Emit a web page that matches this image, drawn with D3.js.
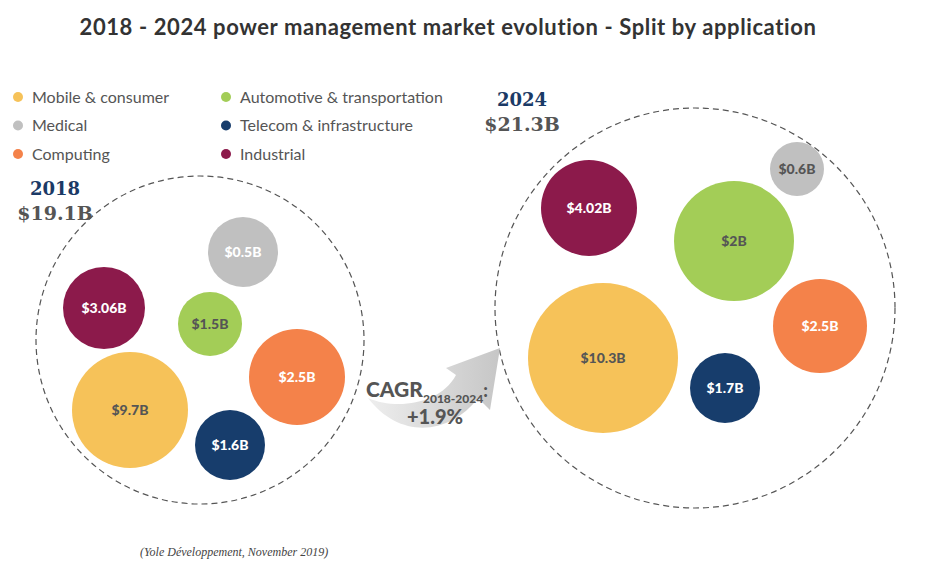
<!DOCTYPE html>
<html><head><meta charset="utf-8">
<script src="https://cdn.jsdelivr.net/npm/d3@7"></script>
<style>body{margin:0;background:#fff}svg{display:block}</style>
</head><body><svg id="c" width="928" height="564"></svg>
<script>
const categories=["Mobile & consumer","Medical","Computing","Automotive & transportation","Telecom & infrastructure","Industrial"];
const colors=["#f6c259","#c0c0c0","#f4824a","#a3cd57","#173d6c","#8c1a4b"];
const values2018=[9.7,0.5,2.5,1.5,1.6,3.06];
const labels2018=["$9.7B","$0.5B","$2.5B","$1.5B","$1.6B","$3.06B"];
const values2024=[10.3,0.6,2.5,2,1.7,4.02];
const labels2024=["$10.3B","$0.6B","$2.5B","$2B","$1.7B","$4.02B"];
const labelDark2018=[true,false,false,true,false,false];
const labelDark2024=[true,true,false,true,false,false];
// layout (position/radius in px) per bubble
const layout2018=[[130,410,58],[243,252,35],[297,377,48],[210,324,32],[230,445,35],[104,308,41]];
const layout2024=[[603,358,75],[797,169,27],[820,326,47],[734,241,60],[725,388,35],[589,208,48]];

const svg=d3.select("#c");
const font="Lato, 'Open Sans', sans-serif";
svg.append("text").attr("x",448).attr("y",35).attr("text-anchor","middle")
 .attr("font-family",font).attr("font-weight","bold").attr("font-size",22).attr("letter-spacing",0.6).attr("fill","#333")
 .text("2018 - 2024 power management market evolution - Split by application");

const leg=svg.append("g");
categories.forEach((c,i)=>{
  const col=Math.floor(i/3),row=i%3;
  const x=col?226:18, y=97+row*28.5;
  leg.append("circle").attr("cx",x).attr("cy",y).attr("r",5).attr("fill",colors[i]);
  leg.append("text").attr("x",x+14).attr("y",y+5.5).attr("font-family",font).attr("font-size",16).attr("fill","#555").text(c);
});

function group(layout,labels,dark,big,year,total,yx,yy){
  svg.append("circle").attr("cx",big[0]).attr("cy",big[1]).attr("r",big[2])
   .attr("fill","none").attr("stroke","#555").attr("stroke-width",1.2).attr("stroke-dasharray","6,4");
  layout.forEach((l,i)=>{
    svg.append("circle").attr("cx",l[0]).attr("cy",l[1]).attr("r",l[2]).attr("fill",colors[i]);
    svg.append("text").attr("x",l[0]).attr("y",l[1]+5).attr("text-anchor","middle")
     .attr("font-family",font).attr("font-weight","900").attr("font-size",14)
     .attr("fill",dark[i]?"#555":"#fff").text(labels[i]);
  });
  svg.append("text").attr("x",yx).attr("y",yy).attr("text-anchor","middle").attr("font-family","'DejaVu Serif', serif")
   .attr("font-weight","bold").attr("font-size",18).attr("fill","#1b3a66").text(year);
  svg.append("text").attr("x",yx).attr("y",yy+25).attr("text-anchor","middle").attr("font-family","'DejaVu Serif', serif")
   .attr("font-weight","bold").attr("font-size",19).attr("fill","#555").text(total);
}
group(layout2018,labels2018,labelDark2018,[200,340,164],"2018","$19.1B",55,195);
group(layout2024,labels2024,labelDark2024,[695,308,200],"2024","$21.3B",522,106);

const defs=svg.append("defs");
const gr=defs.append("linearGradient").attr("id","ag").attr("x1","0").attr("x2","1").attr("y1","0").attr("y2","0");
gr.append("stop").attr("offset","0").attr("stop-color","#eeeeee");
gr.append("stop").attr("offset","1").attr("stop-color","#c6c6c6");
svg.append("path").attr("fill","url(#ag)")
 .attr("d","M368,398 C395,410 440,405 456,375 L446,368 L500,348 L490,410 L478,398 C450,435 400,440 368,398 Z");
const cg=svg.append("text").attr("x",366).attr("y",397).attr("font-family",font).attr("font-weight","900").attr("fill","#555");
cg.append("tspan").attr("font-size",21).text("CAGR");
cg.append("tspan").attr("font-size",12).attr("dy",6).text("2018-2024");
cg.append("tspan").attr("font-size",18).attr("dy",-6).text(":");
svg.append("text").attr("x",435).attr("y",424).attr("text-anchor","middle").attr("font-family",font).attr("font-weight","900")
 .attr("font-size",20).attr("fill","#555").text("+1.9%");

svg.append("text").attr("x",140).attr("y",556).attr("font-family","'Liberation Serif', serif").attr("font-style","italic")
 .attr("font-size",12).attr("fill","#444").text("(Yole Développement, November 2019)");
</script></body></html>
